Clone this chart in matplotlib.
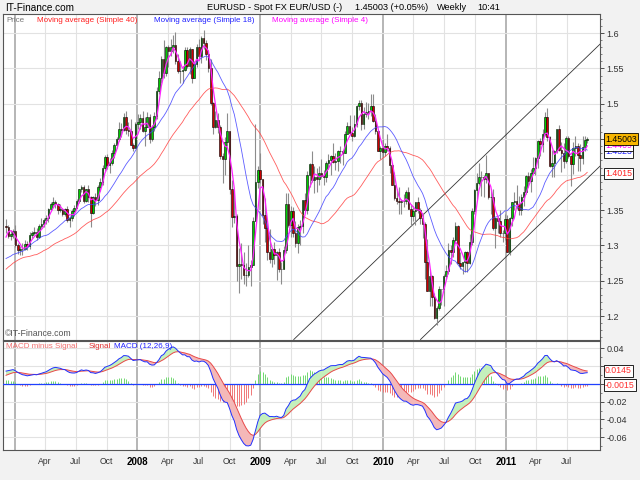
import numpy as np
import pandas as pd
import matplotlib
matplotlib.use('Agg')
import matplotlib.pyplot as plt
import matplotlib.dates as mdates
import matplotlib.transforms as mtransforms

plt.rcParams['font.family'] = ['Liberation Sans', 'DejaVu Sans']

# weekly EUR/USD, weeks starting Monday 2006-12-04
first_week = '2006-12-04'

# 40 weeks before the first shown bar, only used to warm up the indicators
warmup_closes = [1.2050, 1.1920, 1.2150, 1.2020, 1.2120, 1.2120, 1.2250, 1.2350, 1.2630, 1.2750,
                 1.2920, 1.2800, 1.2740, 1.2950, 1.2620, 1.2580, 1.2500, 1.2790, 1.2780, 1.2620,
                 1.2640, 1.2760, 1.2880, 1.2820, 1.2870, 1.2780, 1.2820, 1.2720, 1.2690, 1.2800,
                 1.2680, 1.2600, 1.2510, 1.2590, 1.2740, 1.2750, 1.2830, 1.2830, 1.3100, 1.3280]

closes = [
    # 2006
    1.3260, 1.3130, 1.3160, 1.3200,
    # 2007
    1.3000, 1.2930, 1.2950, 1.2950, 1.3020, 1.2990, 1.3140, 1.3170, 1.3190, 1.3120, 1.3280, 1.3300,
    1.3360, 1.3380, 1.3520, 1.3590, 1.3620, 1.3590, 1.3500, 1.3510, 1.3450, 1.3520, 1.3360, 1.3380,
    1.3480, 1.3530, 1.3630, 1.3790, 1.3830, 1.3630, 1.3790, 1.3690, 1.3460, 1.3690, 1.3640, 1.3820,
    1.3900, 1.4100, 1.4250, 1.4130, 1.4170, 1.4300, 1.4420, 1.4500, 1.4650, 1.4630, 1.4820, 1.4630,
    1.4620, 1.4420, 1.4380, 1.4720, 1.4750,
    # 2008
    1.4800, 1.4620, 1.4670, 1.4820, 1.4510, 1.4680, 1.4830, 1.5180, 1.5360, 1.5630, 1.5430, 1.5800,
    1.5750, 1.5800, 1.5830, 1.5600, 1.5460, 1.5470, 1.5480, 1.5760, 1.5540, 1.5770, 1.5370, 1.5570,
    1.5810, 1.5680, 1.5930, 1.5860, 1.5700, 1.5500, 1.5010, 1.4680, 1.4770, 1.4670, 1.4260, 1.4220,
    1.4460, 1.4620, 1.3790, 1.3400, 1.3420, 1.2710, 1.2740, 1.2720, 1.2580, 1.2580, 1.2690, 1.2720,
    1.3350, 1.3890, 1.4060, 1.3940,
    # 2009
    1.3430, 1.3250, 1.2900, 1.2810, 1.2950, 1.2860, 1.2910, 1.2670, 1.2660, 1.2930, 1.3590, 1.3290,
    1.3480, 1.3170, 1.3040, 1.3260, 1.3280, 1.3640, 1.3500, 1.3990, 1.4150, 1.3930, 1.3970, 1.3940,
    1.4030, 1.3980, 1.3970, 1.4170, 1.4210, 1.4270, 1.4180, 1.4190, 1.4330, 1.4330, 1.4310, 1.4580,
    1.4690, 1.4590, 1.4540, 1.4710, 1.4970, 1.5010, 1.4720, 1.4860, 1.4880, 1.4900, 1.4970, 1.4760,
    1.4610, 1.4340, 1.4380, 1.4320,
    # 2010
    1.4410, 1.4380, 1.4140, 1.3860, 1.3670, 1.3630, 1.3610, 1.3630, 1.3630, 1.3760, 1.3520, 1.3420,
    1.3480, 1.3610, 1.3500, 1.3380, 1.3300, 1.2760, 1.2360, 1.2570, 1.2270, 1.1970, 1.2110, 1.2380,
    1.2380, 1.2570, 1.2640, 1.2940, 1.2900, 1.3080, 1.3280, 1.2750, 1.2710, 1.2760, 1.2900, 1.2750,
    1.3050, 1.3490, 1.3780, 1.3880, 1.3970, 1.3960, 1.3940, 1.4030, 1.3690, 1.3680, 1.3240, 1.3380,
    1.3340, 1.3180, 1.3180, 1.3370,
    # 2011
    1.2910, 1.3380, 1.3610, 1.3630, 1.3580, 1.3500, 1.3690, 1.3750, 1.3980, 1.3910, 1.4030, 1.4090,
    1.4230, 1.4480, 1.4430, 1.4580, 1.4810, 1.4530, 1.4120, 1.4160, 1.4330, 1.4640, 1.4350, 1.4310,
    1.4190, 1.4520, 1.4270, 1.4150, 1.4380, 1.4400, 1.4280, 1.4240, 1.4390, 1.4490, 1.4500]

highs = [
    1.3367, 1.3290, 1.3220, 1.3230,
    1.3290, 1.3030, 1.2990, 1.3030, 1.3070, 1.3060, 1.3190, 1.3200, 1.3260, 1.3250, 1.3300, 1.3380,
    1.3380, 1.3430, 1.3530, 1.3610, 1.3680, 1.3640, 1.3600, 1.3580, 1.3530, 1.3530, 1.3550, 1.3420,
    1.3510, 1.3570, 1.3660, 1.3800, 1.3850, 1.3850, 1.3800, 1.3850, 1.3700, 1.3700, 1.3740, 1.3850,
    1.3950, 1.4130, 1.4280, 1.4290, 1.4230, 1.4350, 1.4450, 1.4530, 1.4750, 1.4730, 1.4870, 1.4900,
    1.4750, 1.4780, 1.4450, 1.4750, 1.4850,
    1.4850, 1.4900, 1.4820, 1.4880, 1.4860, 1.4700, 1.4890, 1.5240, 1.5460, 1.5680, 1.5900, 1.5820,
    1.5830, 1.5920, 1.5980, 1.6020, 1.5700, 1.5600, 1.5530, 1.5800, 1.5800, 1.5800, 1.5780, 1.5610,
    1.5840, 1.5920, 1.5960, 1.6038, 1.5900, 1.5760, 1.5630, 1.5020, 1.4900, 1.4870, 1.4700, 1.4300,
    1.4530, 1.4870, 1.4620, 1.3920, 1.3800, 1.3440, 1.2970, 1.3040, 1.2900, 1.2750, 1.3000, 1.2800,
    1.3400, 1.4720, 1.4120, 1.4300,
    1.3940, 1.3670, 1.3310, 1.3230, 1.2960, 1.3050, 1.2920, 1.2960, 1.2760, 1.2990, 1.3740, 1.3740,
    1.3550, 1.3540, 1.3340, 1.3300, 1.3360, 1.3640, 1.3740, 1.4050, 1.4160, 1.4340, 1.4120, 1.4100,
    1.4120, 1.4220, 1.4070, 1.4190, 1.4290, 1.4280, 1.4450, 1.4310, 1.4350, 1.4400, 1.4350, 1.4620,
    1.4740, 1.4840, 1.4680, 1.4840, 1.4990, 1.5060, 1.5060, 1.4950, 1.5020, 1.5010, 1.5145, 1.5140,
    1.4850, 1.4630, 1.4410, 1.4510,
    1.4450, 1.4580, 1.4400, 1.4170, 1.4040, 1.3790, 1.3820, 1.3660, 1.3720, 1.3780, 1.3820, 1.3590,
    1.3550, 1.3620, 1.3690, 1.3530, 1.3460, 1.3330, 1.3090, 1.2670, 1.2580, 1.2330, 1.2150, 1.2420,
    1.2390, 1.2590, 1.2720, 1.3030, 1.3000, 1.3120, 1.3330, 1.3290, 1.2900, 1.2770, 1.2920, 1.2920,
    1.3160, 1.3530, 1.3800, 1.4030, 1.4160, 1.4050, 1.4000, 1.4282, 1.4030, 1.3790, 1.3790, 1.3400,
    1.3400, 1.3500, 1.3220, 1.3440,
    1.3430, 1.3400, 1.3620, 1.3760, 1.3860, 1.3700, 1.3720, 1.3840, 1.4000, 1.4040, 1.4080, 1.4250,
    1.4250, 1.4490, 1.4520, 1.4650, 1.4880, 1.4939, 1.4540, 1.4350, 1.4350, 1.4640, 1.4700, 1.4460,
    1.4440, 1.4550, 1.4540, 1.4280, 1.4460, 1.4540, 1.4450, 1.4430, 1.4550, 1.4550, 1.4530]

lows = [
    1.3180, 1.3100, 1.3080, 1.3100,
    1.2980, 1.2880, 1.2870, 1.2870, 1.2930, 1.2940, 1.2950, 1.3100, 1.3140, 1.3080, 1.3100, 1.3250,
    1.3260, 1.3300, 1.3330, 1.3500, 1.3550, 1.3530, 1.3440, 1.3470, 1.3420, 1.3410, 1.3330, 1.3260,
    1.3350, 1.3420, 1.3530, 1.3600, 1.3750, 1.3600, 1.3610, 1.3620, 1.3260, 1.3440, 1.3560, 1.3570,
    1.3770, 1.3860, 1.4050, 1.4080, 1.4030, 1.4130, 1.4230, 1.4380, 1.4470, 1.4530, 1.4620, 1.4580,
    1.4550, 1.4420, 1.4330, 1.4370, 1.4650,
    1.4650, 1.4600, 1.4400, 1.4670, 1.4440, 1.4480, 1.4620, 1.4780, 1.5140, 1.5300, 1.5370, 1.5400,
    1.5520, 1.5680, 1.5720, 1.5570, 1.5430, 1.5290, 1.5290, 1.5460, 1.5500, 1.5420, 1.5300, 1.5370,
    1.5520, 1.5620, 1.5580, 1.5780, 1.5620, 1.5450, 1.4990, 1.4580, 1.4660, 1.4590, 1.4220, 1.3880,
    1.4000, 1.4400, 1.3730, 1.3260, 1.3320, 1.2500, 1.2330, 1.2520, 1.2450, 1.2420, 1.2550, 1.2430,
    1.2720, 1.3350, 1.3810, 1.3880,
    1.3300, 1.3050, 1.2800, 1.2750, 1.2700, 1.2730, 1.2510, 1.2620, 1.2457, 1.2680, 1.2890, 1.3260,
    1.3120, 1.3120, 1.2980, 1.2890, 1.3000, 1.3180, 1.3490, 1.3450, 1.3830, 1.3900, 1.3740, 1.3760,
    1.3850, 1.3950, 1.3850, 1.3900, 1.4080, 1.4000, 1.4170, 1.4070, 1.4050, 1.4160, 1.4140, 1.4300,
    1.4580, 1.4580, 1.4480, 1.4530, 1.4680, 1.4910, 1.4630, 1.4650, 1.4820, 1.4780, 1.4830, 1.4740,
    1.4580, 1.4330, 1.4220, 1.4250,
    1.4260, 1.4330, 1.4030, 1.3850, 1.3640, 1.3580, 1.3440, 1.3440, 1.3540, 1.3580, 1.3510, 1.3270,
    1.3340, 1.3290, 1.3460, 1.3300, 1.3110, 1.2530, 1.2350, 1.2140, 1.2150, 1.1960, 1.1876, 1.2080,
    1.2160, 1.2150, 1.2520, 1.2600, 1.2730, 1.2840, 1.3040, 1.2730, 1.2670, 1.2590, 1.2630, 1.2620,
    1.2730, 1.3000, 1.3440, 1.3650, 1.3860, 1.3700, 1.3690, 1.3880, 1.3660, 1.3450, 1.3220, 1.2970,
    1.3170, 1.3120, 1.3050, 1.3080,
    1.2900, 1.2870, 1.3270, 1.3500, 1.3520, 1.3430, 1.3430, 1.3560, 1.3730, 1.3820, 1.3750, 1.4020,
    1.4000, 1.4100, 1.4260, 1.4320, 1.4550, 1.4480, 1.4110, 1.3970, 1.3970, 1.4300, 1.4330, 1.4040,
    1.4100, 1.4160, 1.4240, 1.3840, 1.4010, 1.4270, 1.4050, 1.4050, 1.4150, 1.4330, 1.4440]

# hand drawn channel lines (two end points each)
upper_line_dates = ['2009-04-10', '2011-10-08']
upper_line_prices = [1.167, 1.5844]
lower_line_dates = ['2010-04-22', '2011-10-08']
lower_line_prices = [1.167, 1.412]

# values printed in the boxes on the right
last_price_label = '1.45003'
ma_box_labels = [('1.4323', '#2020ff'), ('1.4409', '#ff00ff')]
ma40_box_label = '1.4015'
signal_box_label = '0.0145'
hist_box_label = '-0.0015'

# ---- indicators
n0 = len(warmup_closes)
all_c = pd.Series(warmup_closes + closes)
ma40 = all_c.rolling(40).mean().values[n0:]
ma18 = all_c.rolling(18).mean().values[n0:]
ma4 = all_c.rolling(4).mean().values[n0:]
macd_all = all_c.ewm(span=12, adjust=False).mean() - all_c.ewm(span=26, adjust=False).mean()
signal_all = macd_all.ewm(span=9, adjust=False).mean()
macd = macd_all.values[n0:]
signal = signal_all.values[n0:]
hist = macd - signal

c = np.array(closes)
o = np.array([warmup_closes[-1]] + closes[:-1])
h = np.maximum(np.array(highs), np.maximum(o, c))
l = np.minimum(np.array(lows), np.minimum(o, c))

dates = pd.date_range(first_week, periods=len(closes), freq='W-MON')
x = mdates.date2num(dates) + 2

# ---- figure
W, H = 640, 480
fig = plt.figure(figsize=(6.4, 4.8), dpi=100, facecolor='#f2f2f2')
ax = fig.add_axes([3 / W, 1 - 339.5 / H, 597 / W, 325.5 / H])
ax2 = fig.add_axes([3 / W, 1 - 450 / H, 597 / W, 109 / H])

xmin = mdates.date2num(pd.Timestamp('2006-11-27'))
xmax = mdates.date2num(pd.Timestamp('2011-10-08'))

quarters = pd.date_range('2007-01-01', '2011-07-01', freq='QS')
for a in (ax, ax2):
    a.set_facecolor('white')
    a.set_xlim(xmin, xmax)
    for q in quarters:
        if q.month == 1:
            a.axvline(mdates.date2num(q), color='#b0b0b0', lw=1.3, zorder=0)
        else:
            a.axvline(mdates.date2num(q), color='#e2e2e2', lw=0.8, zorder=0)
    for s in a.spines.values():
        s.set_color('#555555')
        s.set_linewidth(0.8)
    a.yaxis.tick_right()
    a.tick_params(axis='y', direction='out', length=3, width=0.6, labelsize=6.5,
                  pad=1.5, colors='#333333')
    a.tick_params(axis='y', which='minor', direction='out', length=1.5, width=0.5, colors='#555555')

# ---- price panel
ax.set_ylim(1.167, 1.627)
price_ticks = [1.2, 1.25, 1.3, 1.35, 1.4, 1.45, 1.5, 1.55, 1.6]
for p in price_ticks:
    ax.axhline(p, color='#e2e2e2', lw=0.8, zorder=0)
ax.set_yticks(price_ticks)
# 1.45 and 1.4 sit under the value boxes
ax.set_yticklabels(['' if p in (1.4, 1.45) else f'{p:g}' for p in price_ticks])
ax.set_yticks(np.arange(1.17, 1.63, 0.01), minor=True)
ax.set_xticks([])

ax.plot(mdates.date2num(pd.to_datetime(upper_line_dates)), upper_line_prices,
        color='#333333', lw=0.6, zorder=2)
ax.plot(mdates.date2num(pd.to_datetime(lower_line_dates)), lower_line_prices,
        color='#333333', lw=0.6, zorder=2)

up = c >= o
ax.vlines(x, l, h, color='#8c8c8c', lw=0.8, zorder=3)
ax.bar(x, np.abs(c - o), bottom=np.minimum(o, c), width=4.6,
       color=np.where(up, '#00cc00', '#cc0000'), edgecolor='black', linewidth=0.4, zorder=4)

ax.plot(x, ma40, color='#ff4040', lw=0.6, alpha=0.85, zorder=5)
ax.plot(x, ma18, color='#4040ff', lw=0.6, alpha=0.85, zorder=5)
ax.plot(x, ma4, color='#ff22ff', lw=0.9, zorder=6)

tr = mtransforms.blended_transform_factory(ax.transAxes, ax.transData)
box_x = (605 - 3) / 597
for i, (lab, col) in enumerate(ma_box_labels):
    ax.text(box_x, float(lab), lab, transform=tr, color=col, fontsize=6.3, va='center', ha='left',
            zorder=10 + i, bbox=dict(boxstyle='square,pad=0.15', fc='white', ec='black', lw=0.6))
ax.text(box_x, float(last_price_label), last_price_label, transform=tr, color='black', fontsize=6.3,
        va='center', ha='left', zorder=20,
        bbox=dict(boxstyle='square,pad=0.15', fc='#f7b500', ec='black', lw=0.6))
ax.text(box_x, float(ma40_box_label), ma40_box_label, transform=tr, color='#ff2020', fontsize=6.3,
        va='center', ha='left', zorder=20,
        bbox=dict(boxstyle='square,pad=0.15', fc='white', ec='black', lw=0.6))

# ---- MACD panel
ax2.set_ylim(-0.0743, 0.0482)
macd_ticks = [-0.06, -0.04, -0.02, 0, 0.02, 0.04]
for v in macd_ticks:
    ax2.axhline(v, color='#e2e2e2', lw=0.8, zorder=0)
ax2.set_yticks(macd_ticks)
# 0 and 0.02 sit under the value boxes
ax2.set_yticklabels(['' if v in (0, 0.02) else f'{v:g}' for v in macd_ticks])
ax2.set_yticks(np.arange(-0.07, 0.05, 0.01), minor=True)

ax2.vlines(x, 0, hist, colors=np.where(hist >= 0, '#70d870', '#f07878'), lw=0.7, zorder=2)
ax2.axhline(0, color='#2040ff', lw=0.9, zorder=3)
ax2.fill_between(x, macd, signal, where=macd >= signal, interpolate=True,
                 color='#c4f0bc', lw=0, zorder=3)
ax2.fill_between(x, macd, signal, where=macd < signal, interpolate=True,
                 color='#f4b8b8', lw=0, zorder=3)
ax2.plot(x, signal, color='#e84848', lw=0.7, zorder=4)
ax2.plot(x, macd, color='#2030ff', lw=0.7, zorder=5)

tr2 = mtransforms.blended_transform_factory(ax2.transAxes, ax2.transData)
ax2.text(box_x, float(signal_box_label), signal_box_label, transform=tr2, color='#ff3030',
         fontsize=6.3, va='center', ha='left', zorder=20,
         bbox=dict(boxstyle='square,pad=0.15', fc='white', ec='black', lw=0.6))
ax2.text(box_x, float(hist_box_label), hist_box_label, transform=tr2, color='#ff3030',
         fontsize=6.3, va='center', ha='left', zorder=20,
         bbox=dict(boxstyle='square,pad=0.15', fc='white', ec='black', lw=0.6))

tick_dates = pd.date_range('2007-04-01', '2011-07-01', freq='QS')
ax2.set_xticks(mdates.date2num(tick_dates))
ax2.set_xticklabels([str(d.year) if d.month == 1 else d.strftime('%b') for d in tick_dates])
ax2.tick_params(axis='x', length=0, pad=5, labelsize=6.2, colors='#333333')
for t, d in zip(ax2.get_xticklabels(), tick_dates):
    if d.month == 1:
        t.set_fontweight('bold')
        t.set_fontsize(7)
        t.set_color('black')

# ---- texts
def px(xp, yp):
    return xp / W, 1 - yp / H

fig.text(*px(5, 8), 'IT-Finance.com', fontsize=7.2, va='center', ha='left')
fig.text(*px(207, 8), 'EURUSD - Spot FX EUR/USD (-)', fontsize=6.6, va='center', ha='left')
fig.text(*px(355, 8), '1.45003 (+0.05%)', fontsize=6.6, va='center', ha='left')
fig.text(*px(437, 8), 'Weekly', fontsize=6.6, va='center', ha='left')
fig.text(*px(477, 8), '10:41', fontsize=6.6, va='center', ha='left')

fig.text(*px(6, 20), 'Price', fontsize=5.8, color='#777777', va='center', ha='left')
fig.text(*px(37, 20), 'Moving average (Simple 40)', fontsize=5.8, color='#ff2020', va='center', ha='left')
fig.text(*px(154, 20), 'Moving average (Simple 18)', fontsize=5.8, color='#2020ff', va='center', ha='left')
fig.text(*px(272, 20), 'Moving average (Simple 4)', fontsize=5.8, color='#ff00ff', va='center', ha='left')
fig.text(*px(5, 334), '\u00a9IT-Finance.com', fontsize=6.3, color='#555555', va='center', ha='left')

fig.text(*px(6, 346), 'MACD minus Signal', fontsize=5.8, color='#f07070', va='center', ha='left')
fig.text(*px(89, 346), 'Signal', fontsize=5.8, color='#e03030', va='center', ha='left')
fig.text(*px(114, 346), 'MACD (12,26,9)', fontsize=5.8, color='#2020ff', va='center', ha='left')

fig.savefig('out.png', dpi=100, facecolor=fig.get_facecolor())
